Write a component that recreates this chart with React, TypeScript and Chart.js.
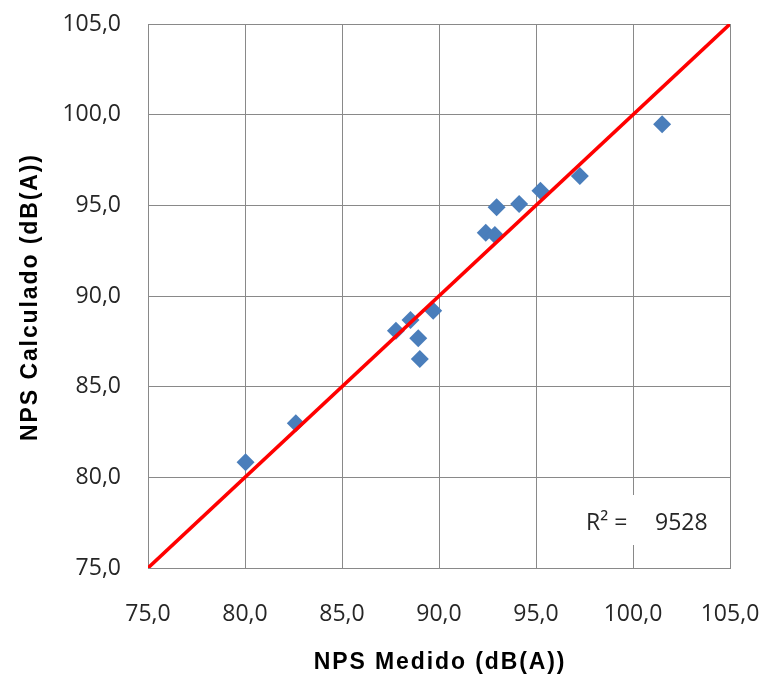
import React, { useEffect, useRef } from "react";
import { Chart, registerables } from "chart.js";

Chart.register(...registerables);

// ---- data ----
const measured = [80.03, 82.62, 87.78, 88.53, 89.7, 88.93, 89.01, 92.41, 92.88, 92.97, 94.13, 95.23, 97.26, 101.5];
const calculated = [80.83, 82.98, 88.09, 88.68, 89.19, 87.67, 86.53, 93.49, 93.36, 94.89, 95.07, 95.8, 96.62, 99.47];
const lineX = [75, 105];
const lineY = [75, 105];
const axisMin = 75;
const axisMax = 105;
const axisStep = 5;
const xTitle = "NPS Medido (dB(A))";
const yTitle = "NPS Calculado (dB(A))";
const r2Prefix = "R\u00B2 =";
const r2Value = "9528";

const fmt = (v: number) => v.toFixed(1).replace(".", ",");

const W = 762;
const H = 677;

const annotPlugin = {
  id: "annot",
  beforeDatasetsDraw(chart: any) {
    const { ctx, chartArea } = chart;
    ctx.save();
    // white label box (covers gridline)
    ctx.fillStyle = "#ffffff";
    ctx.fillRect(chartArea.right - 152, chartArea.bottom - 73, 140, 50);
    ctx.fillStyle = "#262626";
    ctx.font = "23px 'Open Sans'";
    ctx.textBaseline = "middle";
    ctx.textAlign = "left";
    ctx.fillText(r2Prefix, chartArea.right - 144, chartArea.bottom - 45);
    ctx.fillText(r2Value, chartArea.right - 75, chartArea.bottom - 45);
    ctx.restore();
  },
  afterDraw(chart: any) {
    const { ctx, chartArea } = chart;
    ctx.save();
    ctx.fillStyle = "#000000";
    ctx.font = "bold 23px 'Liberation Sans', Arial, sans-serif";
    (ctx as any).letterSpacing = "1.9px";
    ctx.textAlign = "center";
    ctx.textBaseline = "alphabetic";
    const cx = (chartArea.left + chartArea.right) / 2;
    ctx.fillText(xTitle, cx + 1, 669);
    const cy = (chartArea.top + chartArea.bottom) / 2;
    ctx.translate(37, cy + 1);
    ctx.rotate(-Math.PI / 2);
    ctx.fillText(yTitle, 0, 0);
    ctx.restore();
  },
};

export default function App() {
  const ref = useRef<HTMLCanvasElement | null>(null);

  useEffect(() => {
    if (!ref.current) return;
    const gridColor = "#898989";
    const tickFont = { family: "'Open Sans'", size: 23 };
    const chart = new Chart(ref.current, {
      type: "scatter",
      data: {
        datasets: [
          {
            type: "line",
            label: "y = x",
            data: lineX.map((x, i) => ({ x, y: lineY[i] })),
            borderColor: "#ff0000",
            borderWidth: 3.5,
            pointRadius: 0,
            fill: false,
            order: 0,
          } as any,
          {
            type: "scatter",
            label: "NPS",
            data: measured.map((x, i) => ({ x, y: calculated[i] })),
            backgroundColor: "#4a7ebb",
            borderColor: "#4a7ebb",
            borderWidth: 0,
            pointStyle: "rectRot",
            pointRadius: 9,
            order: 1,
          },
        ],
      },
      options: {
        responsive: false,
        animation: false,
        devicePixelRatio: 1,
        layout: { padding: { top: 24, right: 32, left: 0, bottom: 0 } },
        plugins: {
          legend: { display: false },
          tooltip: { enabled: false },
        },
        scales: {
          x: {
            type: "linear",
            min: axisMin,
            max: axisMax,
            afterFit: (s: any) => {
              s.height = 109;
              s.paddingLeft = 0;
              s.paddingRight = 0;
            },
            ticks: {
              stepSize: axisStep,
              color: "#262626",
              font: tickFont,
              padding: 33,
              maxRotation: 0,
              callback: (v: any) => fmt(Number(v)),
            },
            grid: { color: gridColor, lineWidth: 1, drawTicks: false },
            border: { color: gridColor, width: 1 },
          },
          y: {
            type: "linear",
            min: axisMin,
            max: axisMax,
            afterFit: (s: any) => {
              s.width = 148;
              s.paddingTop = 0;
              s.paddingBottom = 0;
            },
            ticks: {
              stepSize: axisStep,
              color: "#262626",
              font: tickFont,
              padding: 27,
              callback: (v: any) => fmt(Number(v)),
            },
            grid: { color: gridColor, lineWidth: 1, drawTicks: false },
            border: { color: gridColor, width: 1 },
          },
        },
      },
      plugins: [annotPlugin],
    });
    return () => chart.destroy();
  }, []);

  return (
    <div style={{ position: "absolute", left: 0, top: 0, width: W, height: H, background: "#fff" }}>
      <canvas ref={ref} width={W} height={H} style={{ width: W, height: H, display: "block" }} />
    </div>
  );
}
